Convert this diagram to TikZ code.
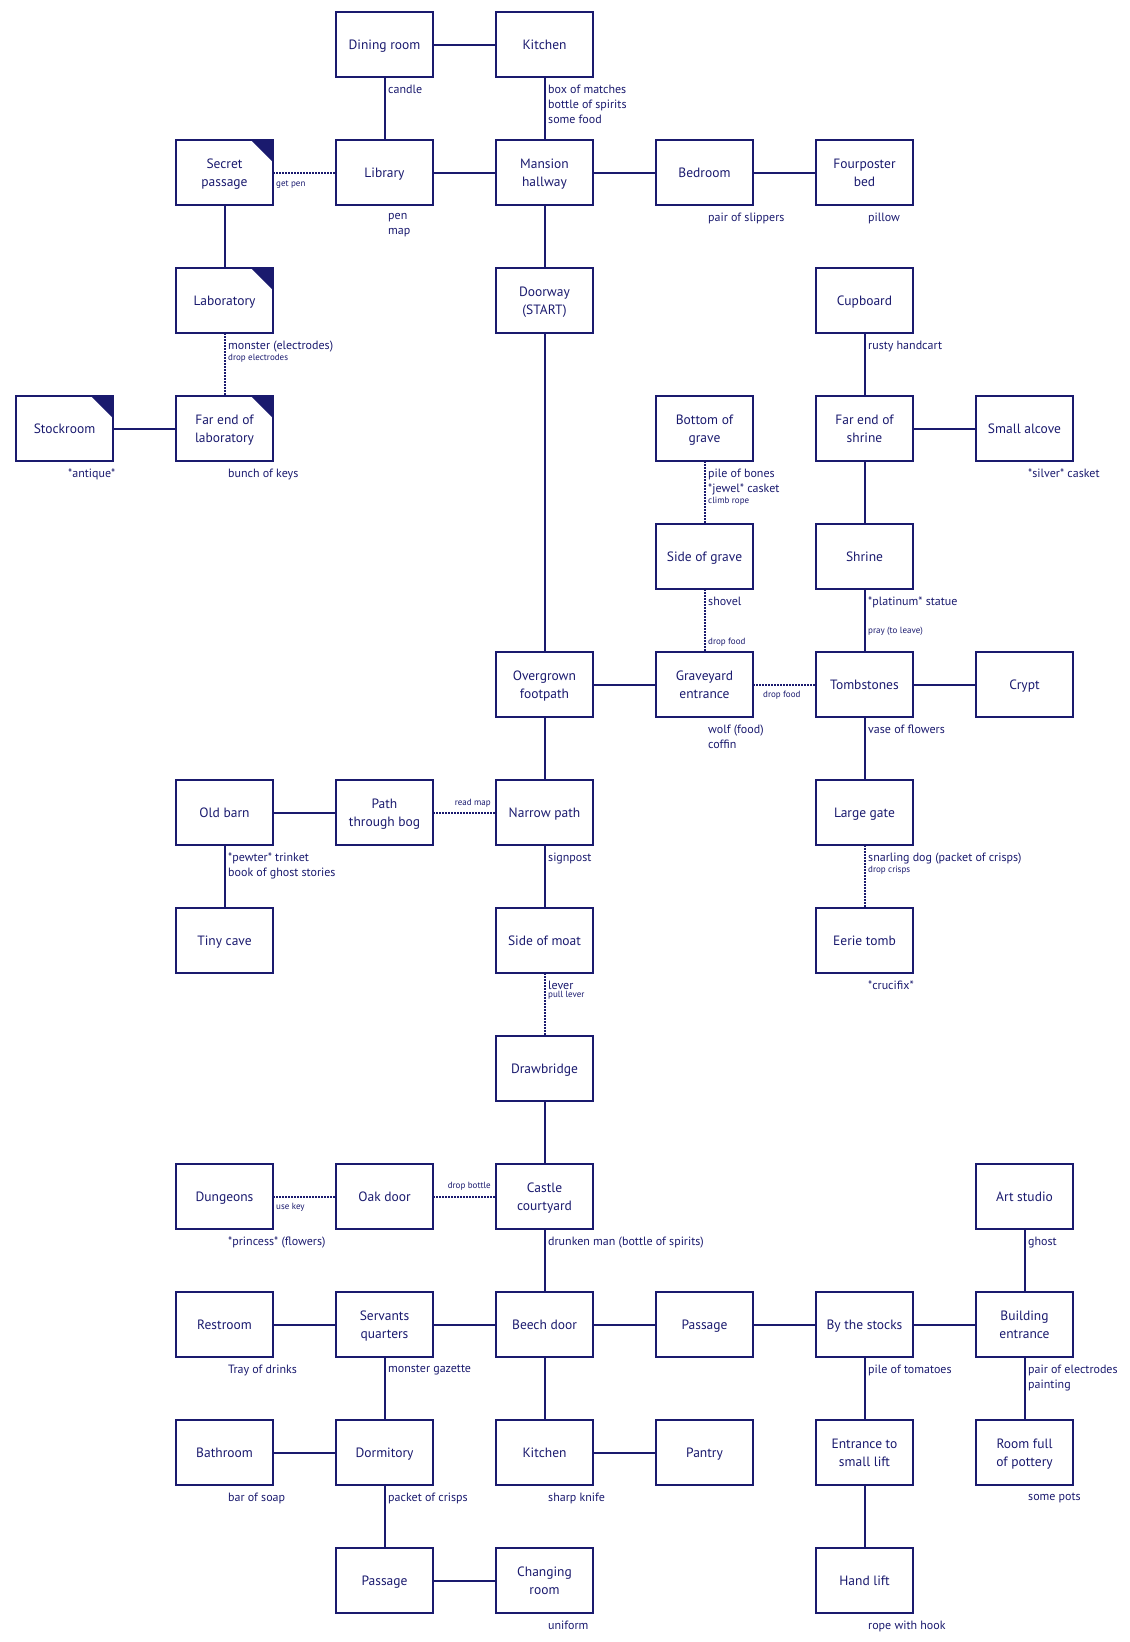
\documentclass[tikz,border=0pt]{standalone}
\usepackage{fontspec}
\setmainfont{PT Sans}
\definecolor{ink}{RGB}{26,26,110}
\newcommand\rl[1]{\rule[-4.3pt]{0pt}{18pt}\smash{#1}}
\tikzset{
  room/.style={draw=ink, line width=2pt, minimum width=97pt, minimum height=65pt,
    inner sep=0pt, outer sep=0pt, align=center, text=ink,
    font=\fontsize{13.5}{18}\selectfont},
  conn/.style={draw=ink, line width=2pt},
  dots/.style={draw=ink, line width=2pt, dash pattern=on 1.5pt off 1.5pt},
  item/.style={text=ink, font=\fontsize{12}{15}\selectfont, align=left,
    inner sep=0pt, anchor=north west},
  act/.style={text=ink, font=\fontsize{9}{10}\selectfont, inner sep=0pt},
  earmark/.style={fill=ink}
}
\newcommand\roomitems[3]{\node[item] (#1) at ([xshift=3.5pt,yshift=-8pt]#2.south) {#3};}
\newcommand\roomact[3]{\node[act, anchor=north west] (#1) at ([yshift=-1pt]#2.south west) {#3};}
\begin{document}
\begin{tikzpicture}[x=1pt,y=-1pt]
\useasboundingbox (0,0) rectangle (1130,1642);
% rooms
\node[room] (dining) at (384.5,44.5) {\rl{Dining room}};
\node[room] (kitchenA) at (544.5,44.5) {\rl{Kitchen}};
\node[room] (secret) at (224.5,172.5) {\rl{Secret}\\\rl{passage}};
\node[room] (library) at (384.5,172.5) {\rl{Library}};
\node[room] (hallway) at (544.5,172.5) {\rl{Mansion}\\\rl{hallway}};
\node[room] (bedroom) at (704.5,172.5) {\rl{Bedroom}};
\node[room] (fourposter) at (864.5,172.5) {\rl{Fourposter}\\\rl{bed}};
\node[room] (lab) at (224.5,300.5) {\rl{Laboratory}};
\node[room] (doorway) at (544.5,300.5) {\rl{Doorway}\\\rl{(START)}};
\node[room] (cupboard) at (864.5,300.5) {\rl{Cupboard}};
\node[room] (stockroom) at (64.5,428.5) {\rl{Stockroom}};
\node[room] (farlab) at (224.5,428.5) {\rl{Far end of}\\\rl{laboratory}};
\node[room] (bottomgrave) at (704.5,428.5) {\rl{Bottom of}\\\rl{grave}};
\node[room] (farshrine) at (864.5,428.5) {\rl{Far end of}\\\rl{shrine}};
\node[room] (alcove) at (1024.5,428.5) {\rl{Small alcove}};
\node[room] (sidegrave) at (704.5,556.5) {\rl{Side of grave}};
\node[room] (shrine) at (864.5,556.5) {\rl{Shrine}};
\node[room] (footpath) at (544.5,684.5) {\rl{Overgrown}\\\rl{footpath}};
\node[room] (graveyard) at (704.5,684.5) {\rl{Graveyard}\\\rl{entrance}};
\node[room] (tombstones) at (864.5,684.5) {\rl{Tombstones}};
\node[room] (crypt) at (1024.5,684.5) {\rl{Crypt}};
\node[room] (barn) at (224.5,812.5) {\rl{Old barn}};
\node[room] (bog) at (384.5,812.5) {\rl{Path}\\\rl{through bog}};
\node[room] (narrow) at (544.5,812.5) {\rl{Narrow path}};
\node[room] (gate) at (864.5,812.5) {\rl{Large gate}};
\node[room] (cave) at (224.5,940.5) {\rl{Tiny cave}};
\node[room] (moat) at (544.5,940.5) {\rl{Side of moat}};
\node[room] (eerie) at (864.5,940.5) {\rl{Eerie tomb}};
\node[room] (drawbridge) at (544.5,1068.5) {\rl{Drawbridge}};
\node[room] (dungeons) at (224.5,1196.5) {\rl{Dungeons}};
\node[room] (oak) at (384.5,1196.5) {\rl{Oak door}};
\node[room] (courtyard) at (544.5,1196.5) {\rl{Castle}\\\rl{courtyard}};
\node[room] (art) at (1024.5,1196.5) {\rl{Art studio}};
\node[room] (restroom) at (224.5,1324.5) {\rl{Restroom}};
\node[room] (servants) at (384.5,1324.5) {\rl{Servants}\\\rl{quarters}};
\node[room] (beech) at (544.5,1324.5) {\rl{Beech door}};
\node[room] (passageA) at (704.5,1324.5) {\rl{Passage}};
\node[room] (stocks) at (864.5,1324.5) {\rl{By the stocks}};
\node[room] (building) at (1024.5,1324.5) {\rl{Building}\\\rl{entrance}};
\node[room] (bathroom) at (224.5,1452.5) {\rl{Bathroom}};
\node[room] (dormitory) at (384.5,1452.5) {\rl{Dormitory}};
\node[room] (kitchenB) at (544.5,1452.5) {\rl{Kitchen}};
\node[room] (pantry) at (704.5,1452.5) {\rl{Pantry}};
\node[room] (liftentr) at (864.5,1452.5) {\rl{Entrance to}\\\rl{small lift}};
\node[room] (pottery) at (1024.5,1452.5) {\rl{Room full}\\\rl{of pottery}};
\node[room] (passageB) at (384.5,1580.5) {\rl{Passage}};
\node[room] (changing) at (544.5,1580.5) {\rl{Changing}\\\rl{room}};
\node[room] (handlift) at (864.5,1580.5) {\rl{Hand lift}};
% ear marks
\foreach \n in {secret,lab,stockroom,farlab}
  \fill[earmark] (\n.north east) -- ++(-22,0) -- ++(22,22) -- cycle;
% solid connectors
\draw[conn] (dining) -- (kitchenA);
\draw[conn] (dining) -- (library);
\draw[conn] (kitchenA) -- (hallway);
\draw[conn] (library) -- (hallway);
\draw[conn] (hallway) -- (bedroom);
\draw[conn] (bedroom) -- (fourposter);
\draw[conn] (hallway) -- (doorway);
\draw[conn] (secret) -- (lab);
\draw[conn] (stockroom) -- (farlab);
\draw[conn] (cupboard) -- (farshrine);
\draw[conn] (farshrine) -- (alcove);
\draw[conn] (farshrine) -- (shrine);
\draw[conn] (shrine) -- (tombstones);
\draw[conn] (doorway) -- (footpath);
\draw[conn] (footpath) -- (graveyard);
\draw[conn] (tombstones) -- (crypt);
\draw[conn] (tombstones) -- (gate);
\draw[conn] (footpath) -- (narrow);
\draw[conn] (barn) -- (bog);
\draw[conn] (barn) -- (cave);
\draw[conn] (narrow) -- (moat);
\draw[conn] (drawbridge) -- (courtyard);
\draw[conn] (courtyard) -- (beech);
\draw[conn] (art) -- (building);
\draw[conn] (restroom) -- (servants);
\draw[conn] (servants) -- (beech);
\draw[conn] (servants) -- (dormitory);
\draw[conn] (beech) -- (passageA);
\draw[conn] (passageA) -- (stocks);
\draw[conn] (stocks) -- (building);
\draw[conn] (beech) -- (kitchenB);
\draw[conn] (stocks) -- (liftentr);
\draw[conn] (building) -- (pottery);
\draw[conn] (bathroom) -- (dormitory);
\draw[conn] (kitchenB) -- (pantry);
\draw[conn] (dormitory) -- (passageB);
\draw[conn] (passageB) -- (changing);
\draw[conn] (liftentr) -- (handlift);
% dotted connectors
\draw[dots] (secret) -- (library);
\draw[dots] (lab) -- (farlab);
\draw[dots] (bottomgrave) -- (sidegrave);
\draw[dots] (sidegrave) -- (graveyard);
\draw[dots] (graveyard) -- (tombstones);
\draw[dots] (bog) -- (narrow);
\draw[dots] (gate) -- (eerie);
\draw[dots] (moat) -- (drawbridge);
\draw[dots] (dungeons) -- (oak);
\draw[dots] (oak) -- (courtyard);
% room items
\roomitems{iDining}{dining}{candle}
\roomitems{iKitchenA}{kitchenA}{box of matches\\bottle of spirits\\some food}
\roomitems{iLibrary}{library}{pen\\map}
\roomitems{iBedroom}{bedroom}{pair of slippers}
\roomitems{iFourposter}{fourposter}{pillow}
\roomitems{iLab}{lab}{monster (electrodes)}
\roomact{aLab}{iLab}{drop electrodes}
\roomitems{iStockroom}{stockroom}{*antique*}
\roomitems{iFarlab}{farlab}{bunch of keys}
\roomitems{iCupboard}{cupboard}{rusty handcart}
\roomitems{iAlcove}{alcove}{*silver* casket}
\roomitems{iBottomgrave}{bottomgrave}{pile of bones\\*jewel* casket}
\roomact{aBottomgrave}{iBottomgrave}{climb rope}
\roomitems{iSidegrave}{sidegrave}{shovel}
\roomitems{iShrine}{shrine}{*platinum* statue}
\roomitems{iGraveyard}{graveyard}{wolf (food)\\coffin}
\roomitems{iTombstones}{tombstones}{vase of flowers}
\roomitems{iBarn}{barn}{*pewter* trinket\\book of ghost stories}
\roomitems{iNarrow}{narrow}{signpost}
\roomitems{iGate}{gate}{snarling dog (packet of crisps)}
\roomact{aGate}{iGate}{drop crisps}
\roomitems{iEerie}{eerie}{*crucifix*}
\roomitems{iMoat}{moat}{lever}
\roomact{aMoat}{iMoat}{pull lever}
\roomitems{iDungeons}{dungeons}{*princess* (flowers)}
\roomitems{iCourtyard}{courtyard}{drunken man (bottle of spirits)}
\roomitems{iArt}{art}{ghost}
\roomitems{iRestroom}{restroom}{Tray of drinks}
\roomitems{iServants}{servants}{monster gazette}
\roomitems{iStocks}{stocks}{pile of tomatoes}
\roomitems{iBuilding}{building}{pair of electrodes\\painting}
\roomitems{iBathroom}{bathroom}{bar of soap}
\roomitems{iDormitory}{dormitory}{packet of crisps}
\roomitems{iKitchenB}{kitchenB}{sharp knife}
\roomitems{iPottery}{pottery}{some pots}
\roomitems{iChanging}{changing}{uniform}
\roomitems{iHandlift}{handlift}{rope with hook}
% standalone action labels
\node[act, anchor=west] (aSecret) at ([xshift=3pt,yshift=-12pt]secret.east) {get pen};
\node[act, anchor=east] (aBog) at ([xshift=-5pt,yshift=9pt]narrow.west) {read map};
\node[act, anchor=west] (aGraveyard) at ([xshift=10pt,yshift=-11pt]graveyard.east) {drop food};
\node[act, anchor=west] (aSidegrave) at ([xshift=3.5pt,yshift=10pt]graveyard.north) {drop food};
\node[act, anchor=west] (aShrine) at ([xshift=3.5pt,yshift=21pt]tombstones.north) {pray (to leave)};
\node[act, anchor=west] (aDungeons) at ([xshift=3pt,yshift=-11pt]dungeons.east) {use key};
\node[act, anchor=east] (aOak) at ([xshift=-5pt,yshift=10pt]courtyard.west) {drop bottle};
\end{tikzpicture}
\end{document}
